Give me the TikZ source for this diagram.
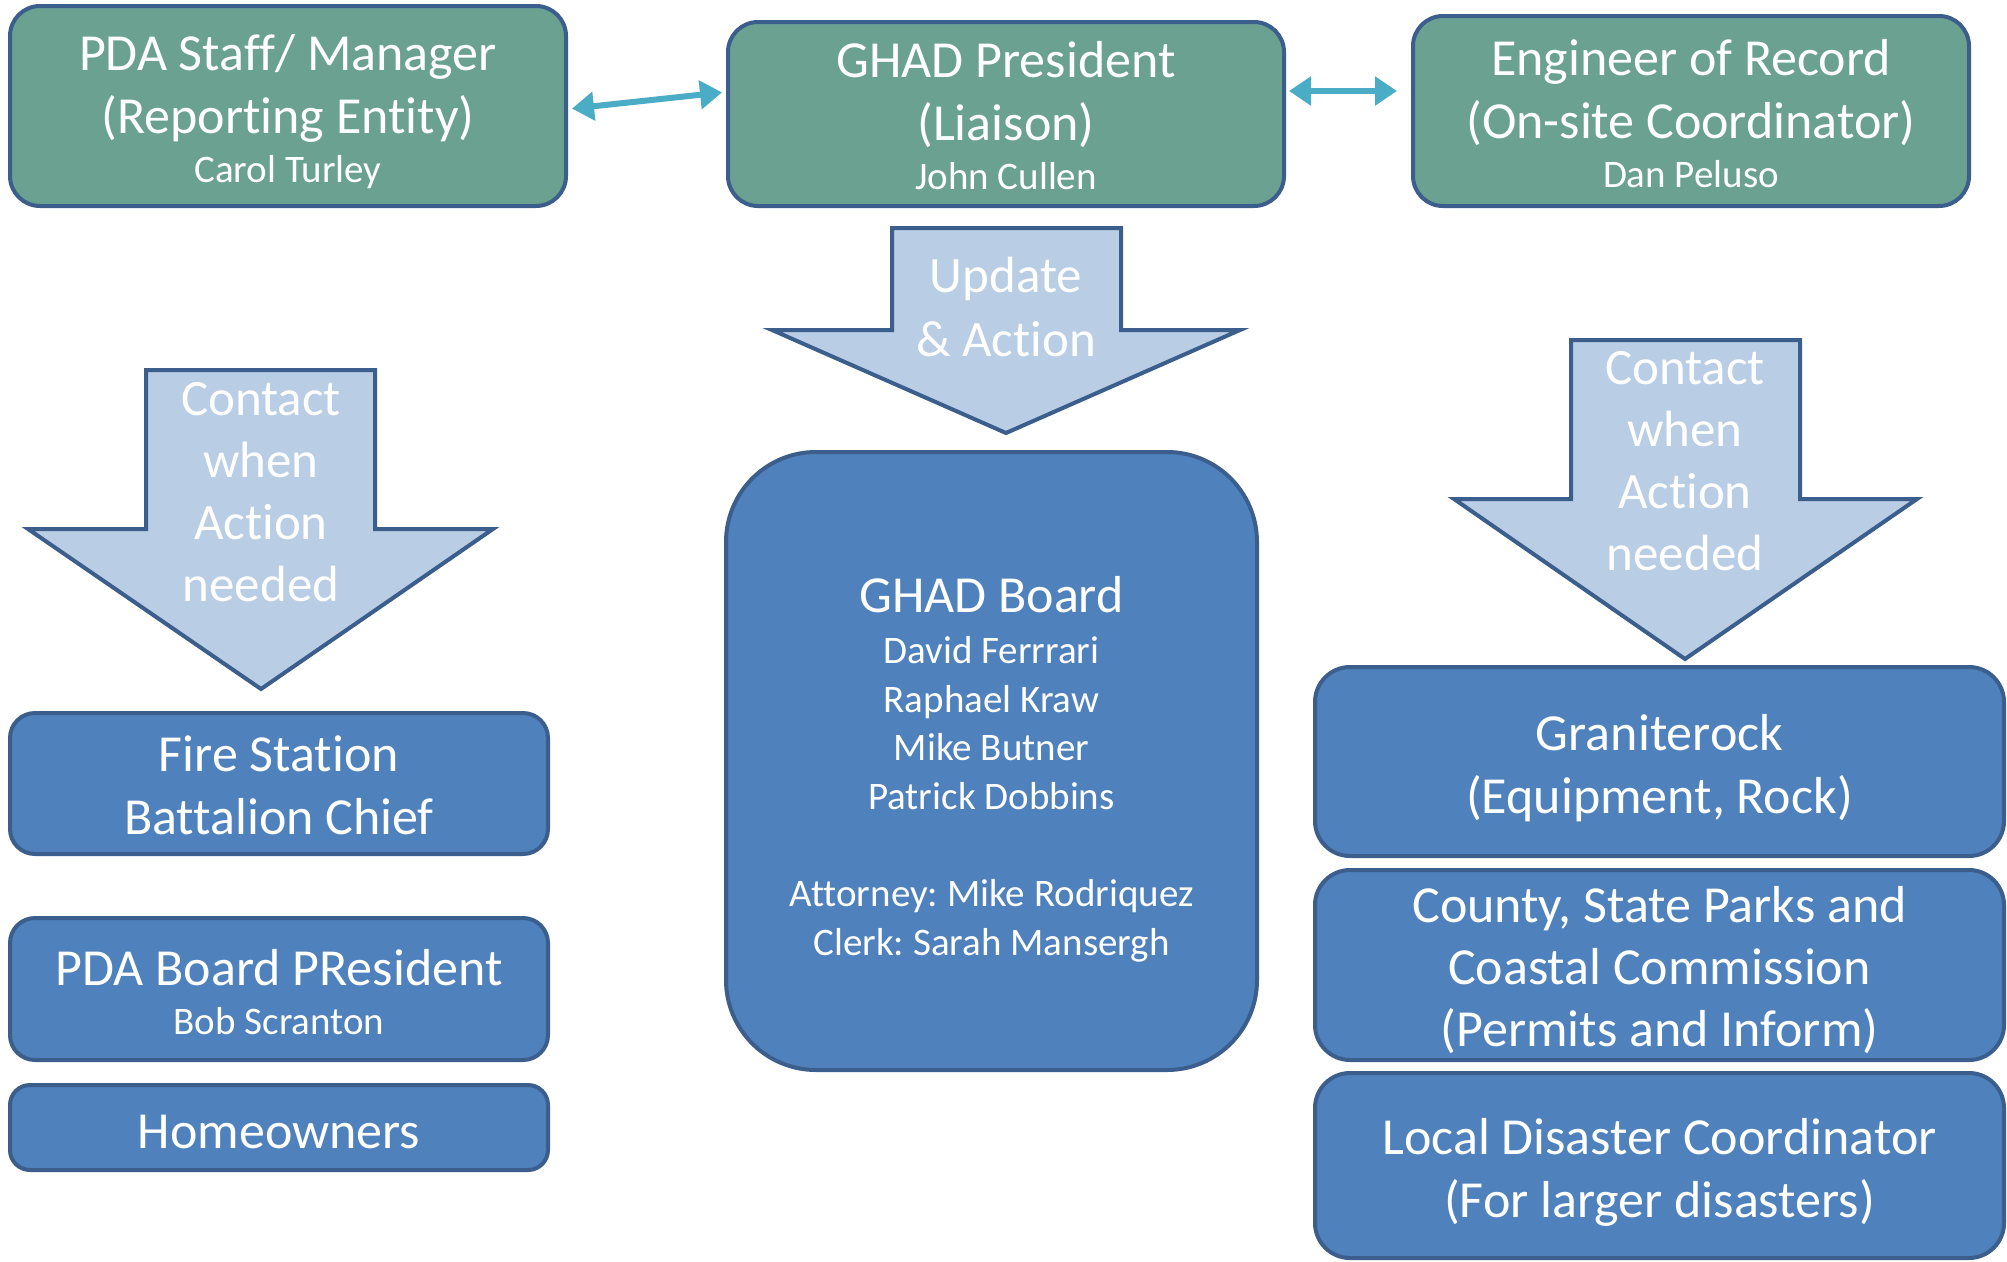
\documentclass[tikz,border=0pt]{standalone}
\usepackage{fontspec}
\setmainfont{Carlito}[Ligatures={NoCommon,NoRare,NoContextual},Contextuals=NoAlternate,RawFeature={-liga;-dlig;-calt;-clig}]
\frenchspacing
\usetikzlibrary{arrows.meta}
\definecolor{bord}{RGB}{59,94,140}
\definecolor{greenfill}{RGB}{107,161,145}
\definecolor{bluefill}{RGB}{79,129,189}
\definecolor{arrowfill}{RGB}{185,205,229}
\definecolor{conn}{RGB}{75,172,198}
\newcommand{\namefont}{\fontsize{39}{48}\selectfont}
\tikzset{
  box/.style={draw=bord, line width=4pt, rounded corners=#1, inner sep=0pt},
  greenbox/.style={box=30pt, fill=greenfill},
  bluebox/.style={box=#1, fill=bluefill},
  btext/.style={inner sep=0pt, align=center, text=white, font=\fontsize{52}{63}\selectfont},
  bigarrow/.style={draw=bord, fill=arrowfill, line width=4pt, line join=miter},
  arrowtext/.style={align=center, text=white, font=\fontsize{51}{62}\selectfont, inner sep=0pt},
  link/.style={draw=conn, line width=6pt, {Triangle[width=28pt,length=22pt]}-{Triangle[width=28pt,length=22pt]}},
}
\begin{document}
\begin{tikzpicture}[x=1pt,y=-1pt]
\useasboundingbox (0,0) rectangle (2007,1261);
% top row
\node[greenbox, minimum width=556pt, minimum height=200pt] (pda) at (288,106) {};
\node[btext] (pdat) at ([yshift=-6pt]pda.center)
  {PDA Staff/ Manager\\(Reporting Entity)\\[-14pt]\namefont Carol Turley};
\node[greenbox, minimum width=556pt, minimum height=184pt] (ghadp) at (1006,114) {};
\node[btext] (ghadpt) at ([yshift=-2pt]ghadp.center)
  {GHAD President\\(Liaison)\\[-14pt]\namefont John Cullen};
\node[greenbox, minimum width=556pt, minimum height=190pt] (eng) at (1691,111) {};
\node[btext] (engt) at ([yshift=-3pt]eng.center)
  {Engineer of Record\\(On-site Coordinator)\\[-14pt]\namefont Dan Peluso};
% links
\draw[link, shorten <=4pt, shorten >=4pt] ([yshift=-3pt]pda.east) -- ([yshift=22pt]ghadp.west);
\draw[link, shorten <=3pt, shorten >=14pt] ([yshift=23pt]ghadp.east) -- ([yshift=20pt]eng.west);
% big arrows
\draw[bigarrow] (892,228) -- (1121,228) -- (1121,330) -- (1240,330) -- (1006,433) -- (772,330) -- (892,330) -- cycle;
\node[arrowtext, font=\fontsize{51}{64}\selectfont] (upd) at (1006,307) {Update\\\& Action};
\draw[bigarrow] (146,370) -- (375,370) -- (375,529) -- (493,529) -- (261,689) -- (28,529) -- (146,529) -- cycle;
\node[arrowtext] (lcontact) at (261,492) {Contact\\when\\Action\\needed};
\draw[bigarrow] (1571,340) -- (1800,340) -- (1800,499) -- (1917,499) -- (1685,659) -- (1454,499) -- (1571,499) -- cycle;
\node[arrowtext] (rcontact) at (1685,461) {Contact\\when\\Action\\needed};
% GHAD board
\node[bluebox=90pt, minimum width=531pt, minimum height=618pt] (board) at (991.5,761) {};
\node[btext, font=\fontsize{39}{48.6}\selectfont] (boardt) at ([yshift=-8pt]board.center)
  {\fontsize{52}{64}\selectfont GHAD Board\\[2.4pt]
   David Ferrrari\\Raphael Kraw\\Mike Butner\\Patrick Dobbins\\[48.6pt]
   Attorney: Mike Rodriquez\\Clerk: Sarah Mansergh};
% left column
\node[bluebox=25pt, minimum width=538pt, minimum height=141pt] (fire) at (279,783.5) {};
\node[btext] (firet) at ([yshift=-2pt]fire.center) {Fire Station\\Battalion Chief};
\node[bluebox=25pt, minimum width=538pt, minimum height=142pt] (pdab) at (279,989) {};
\node[btext] (pdabt) at ([yshift=-3pt]pdab.center)
  {PDA Board PResident\\[-14pt]\namefont Bob Scranton};
\node[bluebox=20pt, minimum width=538pt, minimum height=85pt] (home) at (279,1127.5) {};
\node[btext] (homet) at ([yshift=-4pt]home.center) {Homeowners};
% right column
\node[bluebox=35pt, minimum width=689pt, minimum height=189pt] (gran) at (1659.5,761.5) {};
\node[btext] (grant) at ([yshift=-7pt]gran.center) {Graniterock\\(Equipment, Rock)};
\node[bluebox=35pt, minimum width=689pt, minimum height=190pt] (county) at (1659.5,965) {};
\node[btext, font=\fontsize{52}{62}\selectfont] (countyt) at ([yshift=-5pt]county.center)
  {County, State Parks and\\Coastal Commission\\(Permits and Inform)};
\node[bluebox=35pt, minimum width=689pt, minimum height=185pt] (local) at (1659.5,1165.5) {};
\node[btext] (localt) at ([yshift=-7pt]local.center)
  {Local Disaster Coordinator\\(For larger disasters)};
\end{tikzpicture}
\end{document}
